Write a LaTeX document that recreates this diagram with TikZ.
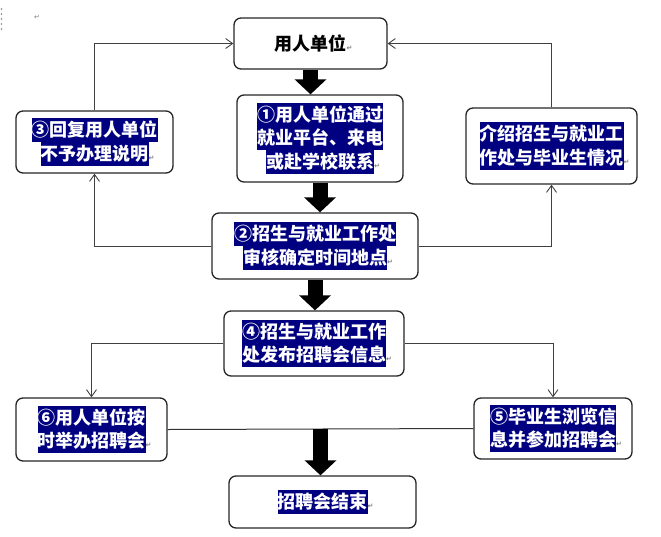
\documentclass[tikz,border=0pt]{standalone}
\usepackage{fontspec}
\setmainfont{Noto Sans CJK SC}
\newfontfamily\markfont{DejaVu Sans}
\usetikzlibrary{arrows.meta, calc}
\definecolor{hlnavy}{RGB}{0,0,128}
\setlength{\fboxsep}{0pt}
\newcommand{\hl}[1]{\colorbox{hlnavy}{\rule[-5.5pt]{0pt}{23.7pt}#1}}
\newcommand{\pmark}{\rlap{\markfont\fontsize{7}{7}\selectfont\color{gray}↵}}

\begin{document}
\begin{tikzpicture}[
            x=1pt, y=-1pt,
            box/.style={rectangle, draw=black!85, line width=1.3pt, rounded corners=7pt, fill=white, align=center, inner sep=0pt, text=white, font=\fontsize{18}{23.7}\selectfont\bfseries},
            link/.style={-{Straight Barb[length=7pt,width=10pt]}, draw=black!75, line width=0.9pt},
            plain/.style={draw=black!80, line width=1pt},
            flow/.style={-{Triangle[width=31pt,length=15pt]}, line width=15pt}
        ]
\useasboundingbox (0,0) rectangle (661,536);

% Nodes
            \node[box, text=black, minimum width=153pt, minimum height=51pt] (top) at (310.5,43.5) {用人单位\pmark};
            \node[box, minimum width=166pt, minimum height=87pt] (reg) at (320,138.5) {\hl{①用人单位通过}\\\hl{就业平台、来电}\\\hl{或赴学校联系}\pmark};
            \node[box, minimum width=157pt, minimum height=62pt] (reply) at (94.5,142) {\hl{③回复用人单位}\\\hl{不予办理说明}\pmark};
            \node[box, minimum width=171pt, minimum height=76pt] (intro) at (551.5,146) {\hl{介绍招生与就业工}\\\hl{作处与毕业生情况}\pmark};
            \node[box, minimum width=206pt, minimum height=66pt] (audit) at (315,246) {\hl{②招生与就业工作处}\\\hl{审核确定时间地点}\pmark};
            \node[box, minimum width=180pt, minimum height=65pt] (publish) at (314,343.5) {\hl{④招生与就业工作}\\\hl{处发布招聘会信息}\pmark};
            \node[box, minimum width=151pt, minimum height=63pt] (hold) at (91.5,429.5) {\hl{⑥用人单位按}\\\hl{时举办招聘会}\pmark};
            \node[box, minimum width=158pt, minimum height=61pt] (visit) at (553,428.5) {\hl{⑤毕业生浏览信}\\\hl{息并参加招聘会}\pmark};
            \node[box, minimum width=187pt, minimum height=52pt] (finish) at (322.5,502) {\hl{招聘会结束}\pmark};

% Edges
            \draw[link] (audit.west) -| (reply.south);
            \draw[link] (reply.north) |- (top.west);
            \draw[link] (audit.east) -| (intro.south);
            \draw[link] (intro.north) |- (top.east);
            \draw[link] (publish.west) -| (hold.north);
            \draw[link] (publish.east) -| (visit.north);
            \draw[plain] (hold.east) -- (visit.west);
            \coordinate (join) at ($(hold.east)!0.5!(visit.west)$);

            \draw[flow] (top.south) -- (top.south |- reg.north);
            \draw[flow] (reg.south) -- (reg.south |- audit.north);
            \draw[flow] (audit.south) -- (audit.south |- publish.north);
            \draw[flow] (join) -- (join |- finish.north);

% Marks
            \node[text=gray, font=\markfont\fontsize{7}{7}\selectfont] (corner) at (37,17) {↵};
            \foreach \d in {9,14,19,24,29}
                \fill[gray] (1.5,\d) circle (0.9pt);

        \end{tikzpicture}
\end{document}
